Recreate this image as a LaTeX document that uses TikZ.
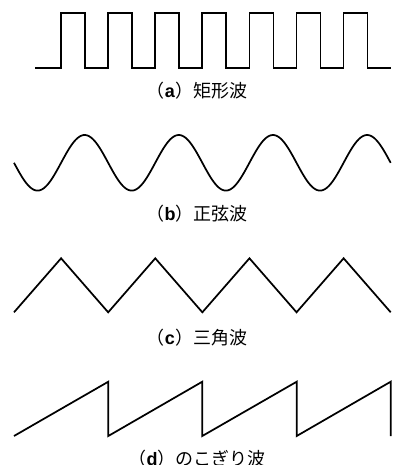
\documentclass[tikz,border=0pt]{standalone}
\usepackage{fontspec}
\newfontfamily\cjk{Noto Sans CJK JP}
\newfontfamily\lbold{Liberation Sans}
\newcommand{\wlabel}[2]{{\cjk （}{\lbold\bfseries #1}{\cjk ）#2}}
\begin{document}
\begin{tikzpicture}[x=0.75pt,y=-0.75pt,
  wave/.style={line width=1.3pt,line join=miter,line cap=butt},
  wavelabel/.style={font=\fontsize{13.5}{16}\selectfont,inner sep=0pt,anchor=center}]
\useasboundingbox (0,0) rectangle (398,465);
% (a) square wave
\draw[wave] (35,68) foreach \k in {0,...,6} {
  -- ({61+47.1*\k},68) -- ({61+47.1*\k},12.7) -- ({85+47.1*\k},12.7) -- ({85+47.1*\k},68) }
  -- (390.7,68);
\node[wavelabel] (la) at (197,90.3) {\wlabel{a}{矩形波}};
% (b) sine wave
\draw[wave] plot[domain=14:390.7,samples=240,smooth] (\x,{162.8+27.8*sin(3.8229*(\x-14))});
\node[wavelabel] (lb) at (197,213.3) {\wlabel{b}{正弦波}};
% (c) triangle wave
\draw[wave] (14,312.3) foreach \i in {1,...,8} {
  -- ({14+47.09*\i},{ifthenelse(mod(\i,2)==1,258.3,312.3)}) };
\node[wavelabel] (lc) at (197,337.3) {\wlabel{c}{三角波}};
% (d) sawtooth wave
\draw[wave] (14,436) -- (108.3,381.7) -- (108.3,436) -- (202.3,381.7) -- (202.3,436)
  -- (296.7,381.7) -- (296.7,436) -- (390.7,381.7) -- (390.7,436);
\node[wavelabel] (ld) at (197,458.3) {\wlabel{d}{のこぎり波}};
\end{tikzpicture}
\end{document}
